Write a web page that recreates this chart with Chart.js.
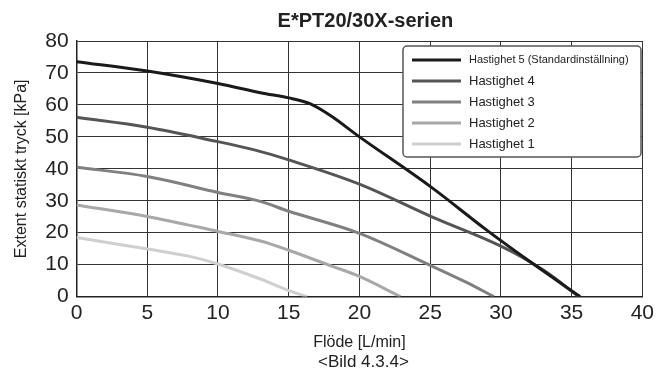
<!DOCTYPE html>
<html lang="sv">
<head>
    <meta charset="UTF-8">
    <title>E*PT20/30X-serien</title>
    <style>
        body {
            margin: 0;
            padding: 0;
            background: #fff;
        }
        .chart-container {
            position: relative;
            width: 658px;
            height: 373px;
        }
    </style>
</head>
<body>
    <div class="chart-container">
        <canvas id="pumpChart"></canvas>
    </div>

    <script src="https://cdn.jsdelivr.net/npm/chart.js"></script>
    <script>
        // Flow [L/min] and pressure [kPa]
        const flow5 = [0, 5, 10, 13, 15, 16.5, 18, 20, 25, 29, 32.2, 35.6];
        const kpa5 = [73.5, 70.6, 66.7, 63.8, 62.2, 60.4, 56.5, 50, 34.5, 20.8, 10.5, 0];
        const flow4 = [0, 5, 10, 12.5, 15, 20, 25, 30, 33, 35.5];
        const kpa4 = [56.1, 53, 48.5, 46, 42.8, 35.2, 25.2, 15.8, 8.3, 0];
        const flow3 = [0, 5, 10, 13, 15, 20, 25, 27.5, 29.5];
        const kpa3 = [40.5, 37.6, 32.6, 29.8, 26.7, 19.8, 9.8, 4.6, 0];
        const flow2 = [0, 5, 10, 13, 15, 18, 20, 22.9];
        const kpa2 = [28.7, 25.1, 20.4, 17.4, 14.5, 9.6, 6.3, 0];
        const flow1 = [0, 5, 8, 10, 13, 15, 16.3];
        const kpa1 = [18.5, 14.9, 12.6, 10.2, 5.5, 1.9, 0];

        const seriesNames = ['Hastighet 5 (Standardinställning)', 'Hastighet 4', 'Hastighet 3', 'Hastighet 2', 'Hastighet 1'];
        const seriesColors = ['#1a1a1a', '#555555', '#808080', '#a8a8a8', '#cfcfcf'];
        const xTicks = [0, 5, 10, 15, 20, 25, 30, 35, 40];
        const yTicks = [0, 10, 20, 30, 40, 50, 60, 70, 80];

        function toPoints(xs, ys) {
            return xs.map((x, i) => ({ x: x, y: ys[i] }));
        }

        const allSeries = [
            toPoints(flow5, kpa5),
            toPoints(flow4, kpa4),
            toPoints(flow3, kpa3),
            toPoints(flow2, kpa2),
            toPoints(flow1, kpa1)
        ];

        // Title, caption and legend box, centred over the plot area like the original
        const boxLegend = {
            id: 'boxLegend',
            afterDraw(chart) {
                const ctx = chart.ctx;
                const area = chart.chartArea;
                const midX = (area.left + area.right) / 2;
                ctx.save();
                ctx.fillStyle = '#222';
                ctx.textAlign = 'center';
                ctx.textBaseline = 'middle';
                ctx.font = 'bold 20px "Liberation Sans", Arial';
                ctx.fillText('E*PT20/30X-serien', midX + 6, 21);
                ctx.font = '17px "Liberation Sans", Arial';
                ctx.fillText('<Bild 4.3.4>', midX + 4, 362);

                const left = 403, top = 46, w = 238, h = 111;
                ctx.textAlign = 'left';
                ctx.fillStyle = '#fff';
                ctx.strokeStyle = '#555';
                ctx.lineWidth = 1.5;
                ctx.beginPath();
                ctx.roundRect(left, top, w, h, 4);
                ctx.fill();
                ctx.stroke();
                seriesNames.forEach((name, i) => {
                    const y = 60 + i * 21;
                    ctx.strokeStyle = seriesColors[i];
                    ctx.lineWidth = 3;
                    ctx.beginPath();
                    ctx.moveTo(412, y);
                    ctx.lineTo(461, y);
                    ctx.stroke();
                    ctx.fillStyle = '#222';
                    ctx.font = i === 0 ? '11px "Liberation Sans Narrow", "Liberation Sans", Arial' : '13px "Liberation Sans", Arial';
                    ctx.fillText(name, 469, y);
                });
                ctx.restore();
            }
        };

        const ctxPump = document.getElementById('pumpChart').getContext('2d');
        new Chart(ctxPump, {
            type: 'line',
            data: {
                datasets: allSeries.map((pts, i) => ({
                    label: seriesNames[i],
                    data: pts,
                    borderColor: seriesColors[i],
                    borderWidth: 3,
                    pointRadius: 0,
                    fill: false,
                    tension: 0.35,
                    order: i === 0 ? 0 : 5 - i
                }))
            },
            options: {
                responsive: true,
                maintainAspectRatio: false,
                animation: false,
                layout: {
                    padding: { left: 12, right: 2, top: 41, bottom: 21 }
                },
                plugins: {
                    legend: { display: false },
                    tooltip: { enabled: false },
                    title: { display: false }
                },
                scales: {
                    x: {
                        type: 'linear',
                        min: 0,
                        max: 40,
                        afterBuildTicks: (axis) => { axis.ticks = xTicks.map(v => ({ value: v })); },
                        grid: { color: '#333', lineWidth: 1, drawTicks: false },
                        border: { color: '#222', width: 1.5 },
                        ticks: {
                            color: '#222',
                            padding: 4,
                            font: { family: '"Liberation Sans", Arial', size: 21 }
                        },
                        title: {
                            display: true,
                            text: 'Flöde [L/min]',
                            color: '#222',
                            font: { family: '"Liberation Sans", Arial', size: 16 },
                            padding: { top: 3, bottom: 0 }
                        }
                    },
                    y: {
                        min: 0,
                        max: 80,
                        afterBuildTicks: (axis) => { axis.ticks = yTicks.map(v => ({ value: v })); },
                        grid: { color: '#333', lineWidth: 1, drawTicks: false },
                        border: { color: '#222', width: 1.5 },
                        ticks: {
                            color: '#222',
                            padding: 8,
                            font: { family: '"Liberation Sans", Arial', size: 21 }
                        },
                        title: {
                            display: true,
                            text: 'Extent statiskt tryck [kPa]',
                            color: '#222',
                            font: { family: '"Liberation Sans", Arial', size: 16 },
                            padding: { top: 0, bottom: 6 }
                        }
                    }
                }
            },
            plugins: [boxLegend]
        });
    </script>
</body>
</html>
